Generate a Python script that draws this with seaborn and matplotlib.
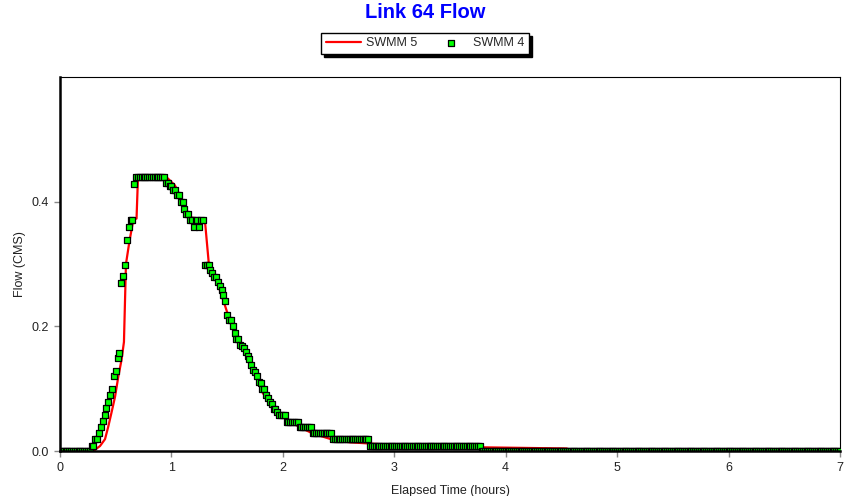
import numpy as np
import pandas as pd
import matplotlib
matplotlib.use("Agg")
import matplotlib.pyplot as plt
import seaborn as sns

# SWMM 4 flows, one value per minute from 0 to 7 hours
swmm4_flow = (
    [0.0] * 17
    + [0.008, 0.008, 0.019, 0.02, 0.029, 0.039, 0.048, 0.058, 0.069, 0.078,
       0.09, 0.099, 0.12, 0.128, 0.149, 0.158, 0.269, 0.28, 0.298, 0.339,
       0.359, 0.371, 0.371, 0.429]
    + [0.439] * 16
    + [0.43, 0.43, 0.425, 0.425, 0.419, 0.419, 0.41, 0.41, 0.399, 0.399,
       0.389, 0.38, 0.38, 0.371, 0.371, 0.359, 0.371, 0.371, 0.359, 0.371,
       0.371, 0.298, 0.298, 0.298, 0.29, 0.285, 0.279, 0.279, 0.271, 0.265,
       0.259, 0.25, 0.24, 0.219, 0.21, 0.21, 0.2, 0.19, 0.18, 0.179,
       0.17, 0.168, 0.165, 0.159, 0.152, 0.148, 0.138, 0.13, 0.127, 0.12,
       0.111, 0.109, 0.1, 0.1, 0.09, 0.085, 0.079, 0.075, 0.068, 0.068,
       0.063, 0.058, 0.058, 0.058, 0.058]
    + [0.047] * 7
    + [0.039] * 7
    + [0.029] * 11
    + [0.019] * 20
    + [0.0085] * 60
    + [0.0] * 194
)
swmm4_time = np.arange(len(swmm4_flow)) / 60.0

# SWMM 5 flow hydrograph (hours, CMS)
swmm5_time = [0.0, 0.242, 0.299, 0.359, 0.404, 0.433, 0.464, 0.494, 0.523, 0.552,
              0.574, 0.592, 0.622, 0.658, 0.687, 0.700, 0.924, 0.958, 1.032, 1.10,
              1.167, 1.30, 1.337, 1.397, 1.496, 1.586, 1.669, 1.75, 1.824, 1.929,
              2.037, 2.154, 2.27, 2.45, 2.6, 3.05, 3.77, 4.55, 4.56, 7.0]
swmm5_flow = [0.0, 0.0, 0.0, 0.008, 0.019, 0.039, 0.063, 0.087, 0.119, 0.146,
              0.175, 0.30, 0.335, 0.371, 0.373, 0.44, 0.44, 0.439, 0.426, 0.40,
              0.375, 0.371, 0.298, 0.279, 0.225, 0.18, 0.155, 0.122, 0.092, 0.068,
              0.05, 0.038, 0.028, 0.018, 0.014, 0.009, 0.006, 0.004, 0.0, 0.0]

x_ticks = [0, 1, 2, 3, 4, 5, 6, 7]
y_ticks = [0.0, 0.2, 0.4]

sns.set_theme(style="white")
plt.rcParams["font.family"] = ["Liberation Sans", "DejaVu Sans"]

fig = plt.figure(figsize=(8.45, 4.96), dpi=100)
ax = fig.add_axes([0.071, 0.0907, 0.923, 0.754])

df5 = pd.DataFrame({"t": swmm5_time, "q": swmm5_flow})
df4 = pd.DataFrame({"t": swmm4_time, "q": swmm4_flow})

sns.lineplot(data=df5, x="t", y="q", ax=ax, color="#ff0000", linewidth=1.6,
             label="SWMM 5", zorder=2)
sns.scatterplot(data=df4, x="t", y="q", ax=ax, marker="s", s=24, color="#00ff00",
                edgecolor="black", linewidth=0.9, label="SWMM 4", zorder=3)

ax.set_xlim(0, 7)
ax.set_ylim(0, 0.6)
ax.set_xticks(x_ticks)
ax.set_xticklabels([str(v) for v in x_ticks])
ax.set_yticks(y_ticks)
ax.set_yticklabels([f"{v:.1f}" for v in y_ticks])
ax.tick_params(axis="both", direction="out", length=4, width=1, color="#888888",
               labelsize=9, labelcolor="#222222", pad=4, left=True, bottom=True)

for side in ["left", "bottom"]:
    ax.spines[side].set_linewidth(1.8)
    ax.spines[side].set_zorder(5)
for side in ["top", "right"]:
    ax.spines[side].set_linewidth(0.8)
for sp in ax.spines.values():
    sp.set_color("black")

ax.set_xlabel("Elapsed Time (hours)", fontsize=9, color="#222222", labelpad=8)
ax.set_ylabel("Flow (CMS)", fontsize=9, color="#222222", labelpad=4)

handles, labels = ax.get_legend_handles_labels()
ax.get_legend().remove()
fig.legend(handles, labels, loc="center", bbox_to_anchor=(425 / 845, 1 - 43.5 / 496),
           ncol=2, fontsize=9, frameon=True, fancybox=False, edgecolor="black",
           framealpha=1, shadow={"color": "black", "alpha": 1}, handlelength=2.8,
           columnspacing=1.3, borderpad=0.35, handletextpad=0.4, markerscale=1.0)

fig.suptitle("Link 64 Flow", x=425 / 845, y=1 - 13 / 496, va="center",
             fontsize=14.5, fontweight="bold", color="#0000ff")

fig.savefig("out.png", dpi=100, facecolor="white")
